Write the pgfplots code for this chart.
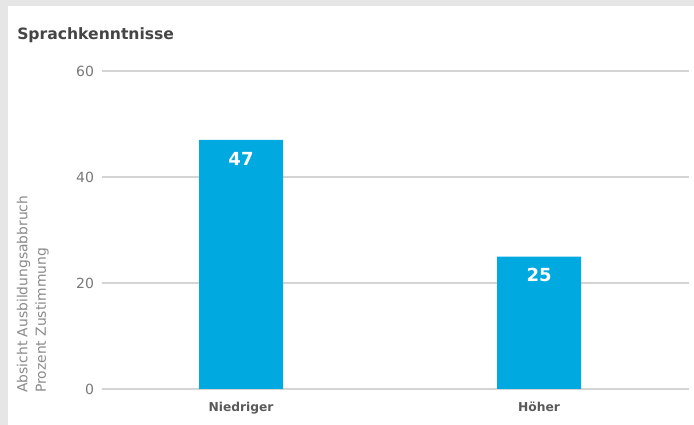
\documentclass[border=0pt]{standalone}
\usepackage{pgfplots}
\pgfplotsset{compat=1.18}
\usepackage{fontspec}
\setmainfont{DejaVu Sans}
\definecolor{barblue}{HTML}{00A9E0}
\definecolor{bg}{HTML}{E6E6E6}
\definecolor{gridc}{HTML}{D4D4D4}
\definecolor{tickc}{HTML}{7A7A7A}
\definecolor{titlec}{HTML}{454545}
\definecolor{xlabc}{HTML}{5A5A5A}
\definecolor{ylabc}{HTML}{8A8A8A}
\begin{document}
\begin{tikzpicture}
\useasboundingbox (0pt,0pt) rectangle (520.5pt,318.75pt);
\fill[bg] (0pt,0pt) rectangle (520.5pt,318.75pt);
\fill[white] (6pt,0pt) rectangle (520.5pt,314.25pt);
\node[anchor=base west, font=\bfseries\fontsize{11.7}{13}\selectfont, text=titlec, inner sep=0pt] at (12.75pt,288.75pt) {Sprachkenntnisse};
\node[rotate=90, anchor=base west, font=\fontsize{10.4}{12}\selectfont, text=ylabc, inner sep=0pt] at (20.5pt,24pt) {Absicht Ausbildungsabbruch};
\node[rotate=90, anchor=base west, font=\fontsize{10.4}{12}\selectfont, text=ylabc, inner sep=0pt] at (34.5pt,24pt) {Prozent Zustimmung};
\begin{axis}[
  at={(76.5pt,27pt)}, anchor=south west,
  width=440.25pt, height=238.5pt, scale only axis,
  xmin=-0.4664, xmax=1.503, ymin=0, ymax=60,
  axis line style={draw=none},
  tick style={draw=none},
  ymajorgrids, grid style={gridc, line width=0.9pt},
  ytick={0,20,40,60},
  xtick={0,1}, xticklabels={Niedriger,Höher},
  /pgf/number format/assume math mode=true,
  yticklabel style={font=\fontsize{10.5}{12}\selectfont, text=tickc, xshift=-2.5pt},
  xticklabel style={font=\bfseries\fontsize{9.2}{11}\selectfont, text=xlabc, yshift=-2pt},
  ybar, bar width=63pt,
  nodes near coords,
  nodes near coords style={anchor=north, text=white, font=\bfseries\fontsize{13.5}{15}\selectfont, yshift=-5.5pt},
  clip=false,
]
\addplot[fill=barblue, draw=none] coordinates {(0,47) (1,25)};
\end{axis}
\end{tikzpicture}
\end{document}
